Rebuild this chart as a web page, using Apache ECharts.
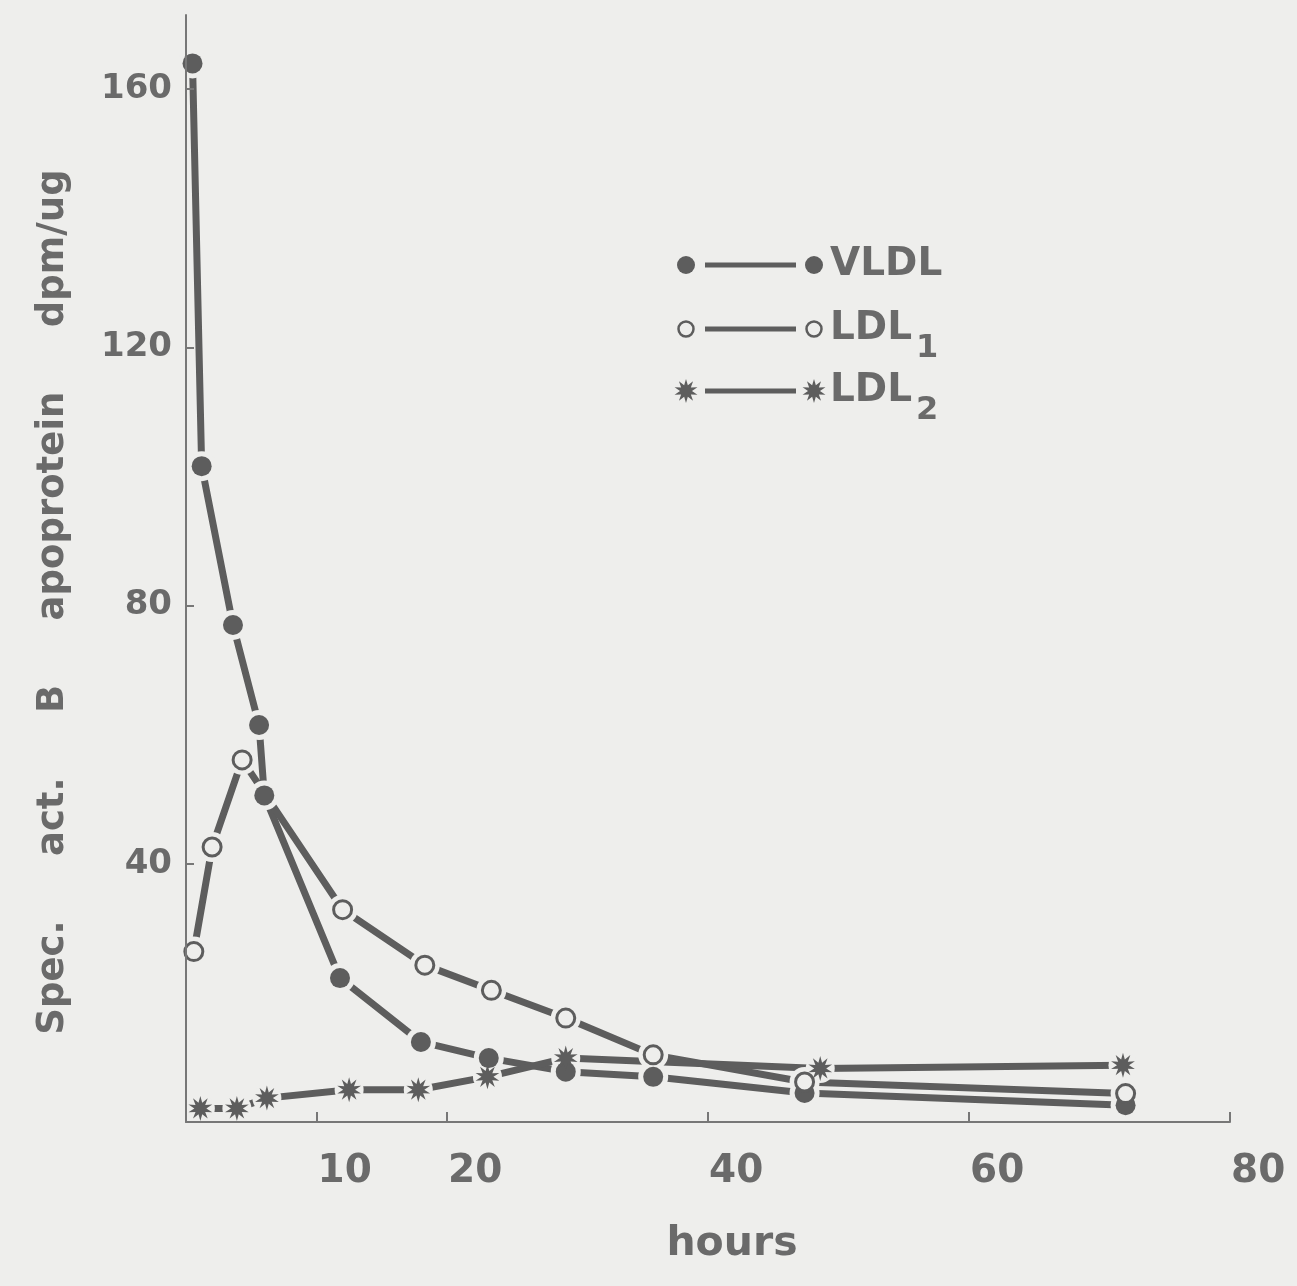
<!DOCTYPE html>
<html>
<head>
<meta charset="utf-8">
<script src="https://cdn.jsdelivr.net/npm/echarts@6/dist/echarts.min.js"></script>
<style>
html,body{margin:0;padding:0;background:#eeeeec;}
#chart{width:1297px;height:1286px;}
</style>
</head>
<body>
<div id="chart"></div>
<script>
// ---- data ----
const vldlX = [0.5, 1.2, 3.6, 5.6, 6.0, 11.8, 18.0, 23.2, 29.1, 35.8, 47.4, 72.0];
const vldlY = [164, 101.6, 77.0, 61.5, 50.6, 22.3, 12.4, 9.9, 7.8, 7.0, 4.5, 2.6];
const ldl1X = [0.6, 2.0, 4.3, 12.0, 18.3, 23.4, 29.1, 35.8, 47.4, 72.0];
const ldl1Y = [26.4, 42.6, 56.1, 32.9, 24.3, 20.4, 16.1, 10.4, 6.2, 4.4];
const ldl2X = [1.1, 3.9, 6.2, 12.5, 17.8, 23.1, 29.1, 48.6, 71.8];
const ldl2Y = [2.1, 2.1, 3.7, 5.0, 5.0, 7.0, 9.9, 8.3, 8.8];
const xTicks = [10, 20, 40, 60, 80];
const yTicks = [40, 80, 120, 160];
const seriesNames = ['VLDL', 'LDL', 'LDL'];
const seriesSubs = ['', '1', '2'];
const xName = 'hours';
const yName = 'Spec.     act.     B     apoprotein     dpm/ug';

// ---- style ----
const BG = '#eeeeec';
const INK = '#5d5d5d';
const TXT = '#6a6a6a';
const FONT = '"DejaVu Sans", sans-serif';

function starPoints(cx, cy, R, r, n) {
  const pts = [];
  for (let i = 0; i < 2 * n; i++) {
    const a = Math.PI * i / n - Math.PI / 2;
    const rad = i % 2 === 0 ? R : r;
    pts.push([cx + rad * Math.cos(a), cy + rad * Math.sin(a)]);
  }
  return pts;
}
function starPath(n) {
  const pts = starPoints(50, 50, 50, 24, n);
  return 'path://M' + pts.map(p => p[0].toFixed(2) + ' ' + p[1].toFixed(2)).join(' L') + ' Z';
}
const STAR = starPath(10);

const pairs = (xs, ys) => xs.map((x, i) => [x, ys[i]]);
const sets = [pairs(vldlX, vldlY), pairs(ldl1X, ldl1Y), pairs(ldl2X, ldl2Y)];

const series = [];
sets.forEach((d) => {
  series.push({
    type: 'line', data: d, showSymbol: false, symbol: 'none', z: 2,
    lineStyle: { color: INK, width: 7 }, silent: true
  });
});
sets.forEach((d, k) => {
  series.push({
    type: 'scatter', data: d, z: 3, symbol: 'circle',
    symbolSize: k === 2 ? 29 : 30,
    itemStyle: { color: BG, opacity: 1 }, silent: true
  });
});
series.push({ type: 'scatter', data: sets[0], z: 4, symbol: 'circle', symbolSize: 20,
  itemStyle: { color: INK, opacity: 1 } });
series.push({ type: 'scatter', data: sets[1], z: 4, symbol: 'circle', symbolSize: 18,
  itemStyle: { color: BG, borderColor: INK, borderWidth: 3, opacity: 1 } });
series.push({ type: 'scatter', data: sets[2], z: 4, symbol: STAR, symbolSize: 25,
  symbolKeepAspect: true, itemStyle: { color: INK, opacity: 1 } });

// ---- legend (drawn as graphic: marker — line — marker  label) ----
const legendRows = [265, 329, 391];
const graphics = [];
legendRows.forEach((y, k) => {
  const x1 = 686, x2 = 814;
  const mk = (cx) => {
    if (k === 0) return { type: 'circle', shape: { cx: cx, cy: y, r: 9 }, style: { fill: INK } };
    if (k === 1) return { type: 'circle', shape: { cx: cx, cy: y, r: 7.5 }, style: { fill: BG, stroke: INK, lineWidth: 2.5 } };
    return { type: 'polygon', shape: { points: starPoints(cx, y, 12, 6, 10) }, style: { fill: INK } };
  };
  graphics.push(mk(x1));
  graphics.push({ type: 'line', shape: { x1: 705, y1: y, x2: 796, y2: y }, style: { stroke: INK, lineWidth: 5 } });
  graphics.push(mk(x2));
  graphics.push({ type: 'text', x: 830, y: y, style: { text: seriesNames[k], font: 'bold 39px ' + FONT, fill: TXT, verticalAlign: 'middle' } });
  if (seriesSubs[k]) {
    graphics.push({ type: 'text', x: 916, y: y + 20, style: { text: seriesSubs[k], font: 'bold 32px ' + FONT, fill: TXT, verticalAlign: 'middle' } });
  }
});

const labelStyle = { fontFamily: FONT, fontWeight: 'bold', color: TXT };

const chart = echarts.init(document.getElementById('chart'), null, { renderer: 'canvas' });
chart.setOption({
  animation: false,
  backgroundColor: BG,
  grid: { left: 186, right: 67, top: 15, bottom: 164, containLabel: false, outerBoundsMode: 'none' },
  xAxis: {
    type: 'value', min: 0, max: 80, z: 5,
    axisLine: { show: true, onZero: false, lineStyle: { color: '#777', width: 2 } },
    axisTick: { show: true, inside: true, length: 10, customValues: xTicks, lineStyle: { color: '#777', width: 2 } },
    axisLabel: Object.assign({ customValues: xTicks, fontSize: 39, margin: 30, align: 'left', padding: [0, 0, 0, 1] }, labelStyle),
    splitLine: { show: false },
    name: xName, nameLocation: 'middle', nameGap: 102,
    nameTextStyle: Object.assign({ fontSize: 41, padding: [0, 0, 0, 48] }, labelStyle)
  },
  yAxis: {
    type: 'value', min: 0, max: 171.5, z: 5,
    axisLine: { show: true, onZero: false, lineStyle: { color: '#777', width: 2 } },
    axisTick: { show: true, inside: true, length: 8, customValues: yTicks, lineStyle: { color: '#777', width: 2 } },
    axisLabel: Object.assign({ customValues: yTicks, fontSize: 34, margin: 14 }, labelStyle),
    splitLine: { show: false },
    name: yName, nameLocation: 'middle', nameRotate: 90, nameGap: 114,
    nameTextStyle: Object.assign({ fontSize: 37, padding: [0, 67, 0, 0] }, labelStyle)
  },
  graphic: graphics,
  series: series
});
</script>
</body>
</html>
